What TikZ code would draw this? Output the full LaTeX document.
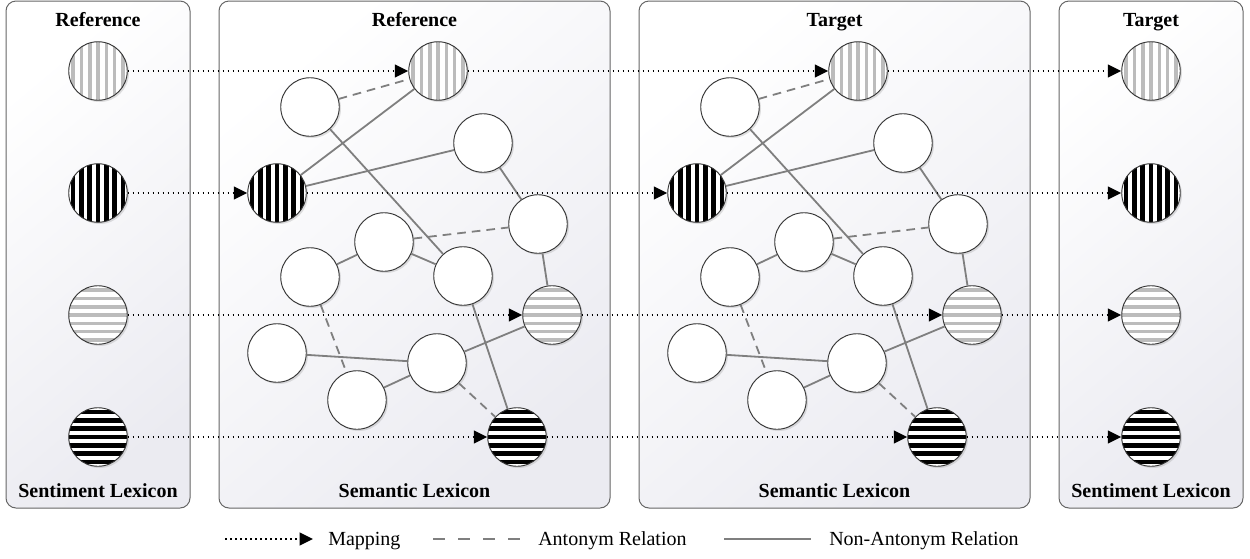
\documentclass[tikz,border=0pt]{standalone}
\usepackage{fontspec}
\setmainfont{Liberation Serif}
\usetikzlibrary{arrows.meta,shadows}
\definecolor{panelgray}{HTML}{EBEBF1}
\definecolor{edgegray}{HTML}{7F7F7F}
\definecolor{stripegray}{HTML}{BCBCBC}
\tikzset{
  panel/.style={draw=black!60, line width=0.75pt, rounded corners=7.5pt, top color=white, bottom color=panelgray, shading angle=40},
  wnode/.style={circle, draw=black!80, line width=0.7pt, fill=white, minimum size=43.9pt, inner sep=0pt,
    drop shadow={shadow xshift=1.3pt, shadow yshift=-1.3pt, opacity=0.3, fill=black!40}},
  vstr/.style 2 args={wnode, path picture={\foreach \k in {-4,...,4}{\fill[#1] (path picture bounding box.center) ++({\k*8.3-#2/2},-32) rectangle ++(#2,64);}}},
  hstr/.style 2 args={wnode, path picture={\foreach \k in {-4,...,4}{\fill[#1] (path picture bounding box.center) ++(-32,{\k*8.3-#2/2}) rectangle ++(64,#2);}}},
  lv/.style={vstr={stripegray}{3.6}},
  bv/.style={vstr={black}{4.6}},
  lh/.style={hstr={stripegray}{3.6}},
  bh/.style={hstr={black}{4.6}},
  rel/.style={draw=edgegray, line width=1.35pt},
  anto/.style={rel, dash pattern=on 6.5pt off 4.5pt},
  legdash/.style={rel, dash pattern=on 9pt off 9.8pt},
  map/.style={draw=black, line width=1.3pt, dash pattern=on 1.3pt off 2.45pt, -{Triangle[length=10pt,width=9.5pt]}},
  ttl/.style={font=\fontsize{15}{18}\selectfont\bfseries, anchor=base, inner sep=0pt},
  lab/.style={font=\fontsize{15}{18}\selectfont, anchor=base west, inner sep=0pt},
}
\newcommand\semgraph[2]{%
  \node[lv] (#1LV) at (438+#2,71) {};
  \node[wnode] (#1A) at (310+#2,107) {};
  \node[wnode] (#1B) at (483+#2,143) {};
  \node[bv] (#1BV) at (277+#2,193) {};
  \node[wnode] (#1C) at (538+#2,224) {};
  \node[wnode] (#1D) at (384+#2,242) {};
  \node[wnode] (#1E) at (310+#2,277) {};
  \node[wnode] (#1F) at (463+#2,276) {};
  \node[lh] (#1LH) at (552+#2,315) {};
  \node[wnode] (#1G) at (277+#2,353) {};
  \node[wnode] (#1H) at (437+#2,363) {};
  \node[wnode] (#1I) at (357+#2,400) {};
  \node[bh] (#1BH) at (517+#2,437) {};
  \draw[anto] (#1A) -- (#1LV);
  \draw[rel] (#1BV) -- (#1LV);
  \draw[rel] (#1A) -- (#1F);
  \draw[rel] (#1BV) -- (#1B);
  \draw[rel] (#1B) -- (#1C);
  \draw[anto] (#1D) -- (#1C);
  \draw[rel] (#1E) -- (#1D);
  \draw[rel] (#1D) -- (#1F);
  \draw[rel] (#1C) -- (#1LH);
  \draw[rel] (#1F) -- (#1BH);
  \draw[anto] (#1E) -- (#1I);
  \draw[rel] (#1G) -- (#1H);
  \draw[rel] (#1I) -- (#1H);
  \draw[rel] (#1H) -- (#1LH);
  \draw[anto] (#1H) -- (#1BH);
}
\begin{document}
\begin{tikzpicture}[x=0.75pt,y=-0.75pt]
\useasboundingbox (0,0) rectangle (1250,558);
% panels
\path[panel] (6,1) rectangle (190,508);
\path[panel] (219,1) rectangle (610,508);
\path[panel] (639,1) rectangle (1030,508);
\path[panel] (1059,1) rectangle (1243,508);
% titles
\node[ttl] (t1) at (98,26) {Reference};
\node[ttl] (t2) at (414.5,26) {Reference};
\node[ttl] (t3) at (834.5,26) {Target};
\node[ttl] (t4) at (1151,26) {Target};
\node[ttl] (b1) at (98,497) {Sentiment Lexicon};
\node[ttl] (b2) at (414.5,497) {Semantic Lexicon};
\node[ttl] (b3) at (834.5,497) {Semantic Lexicon};
\node[ttl] (b4) at (1151,497) {Sentiment Lexicon};
% sentiment lexicons
\node[lv] (pLV) at (98,71) {};
\node[bv] (pBV) at (98,193) {};
\node[lh] (pLH) at (98,315) {};
\node[bh] (pBH) at (98,437) {};
\node[lv] (qLV) at (1151,71) {};
\node[bv] (qBV) at (1151,193) {};
\node[lh] (qLH) at (1151,315) {};
\node[bh] (qBH) at (1151,437) {};
% semantic lexicons
\semgraph{r}{0}
\semgraph{t}{420}
% mappings
\foreach \n in {LV,BV,LH,BH}{
  \draw[map] (p\n) -- (r\n);
  \draw[map] (r\n) -- (t\n);
  \draw[map] (t\n) -- (q\n);
}
% legend
\coordinate (m1) at (225,539);
\coordinate (m2) at (313,539);
\draw[map] (m1) -- (m2);
\node[lab] (lm) at (328,545) {Mapping};
\coordinate (a1) at (433,539);
\coordinate (a2) at (520,539);
\draw[legdash] (a1) -- (a2);
\node[lab] (la) at (538,545) {Antonym Relation};
\coordinate (n1) at (724,539);
\coordinate (n2) at (811,539);
\draw[rel] (n1) -- (n2);
\node[lab] (ln) at (829,545) {Non-Antonym Relation};
\end{tikzpicture}
\end{document}
